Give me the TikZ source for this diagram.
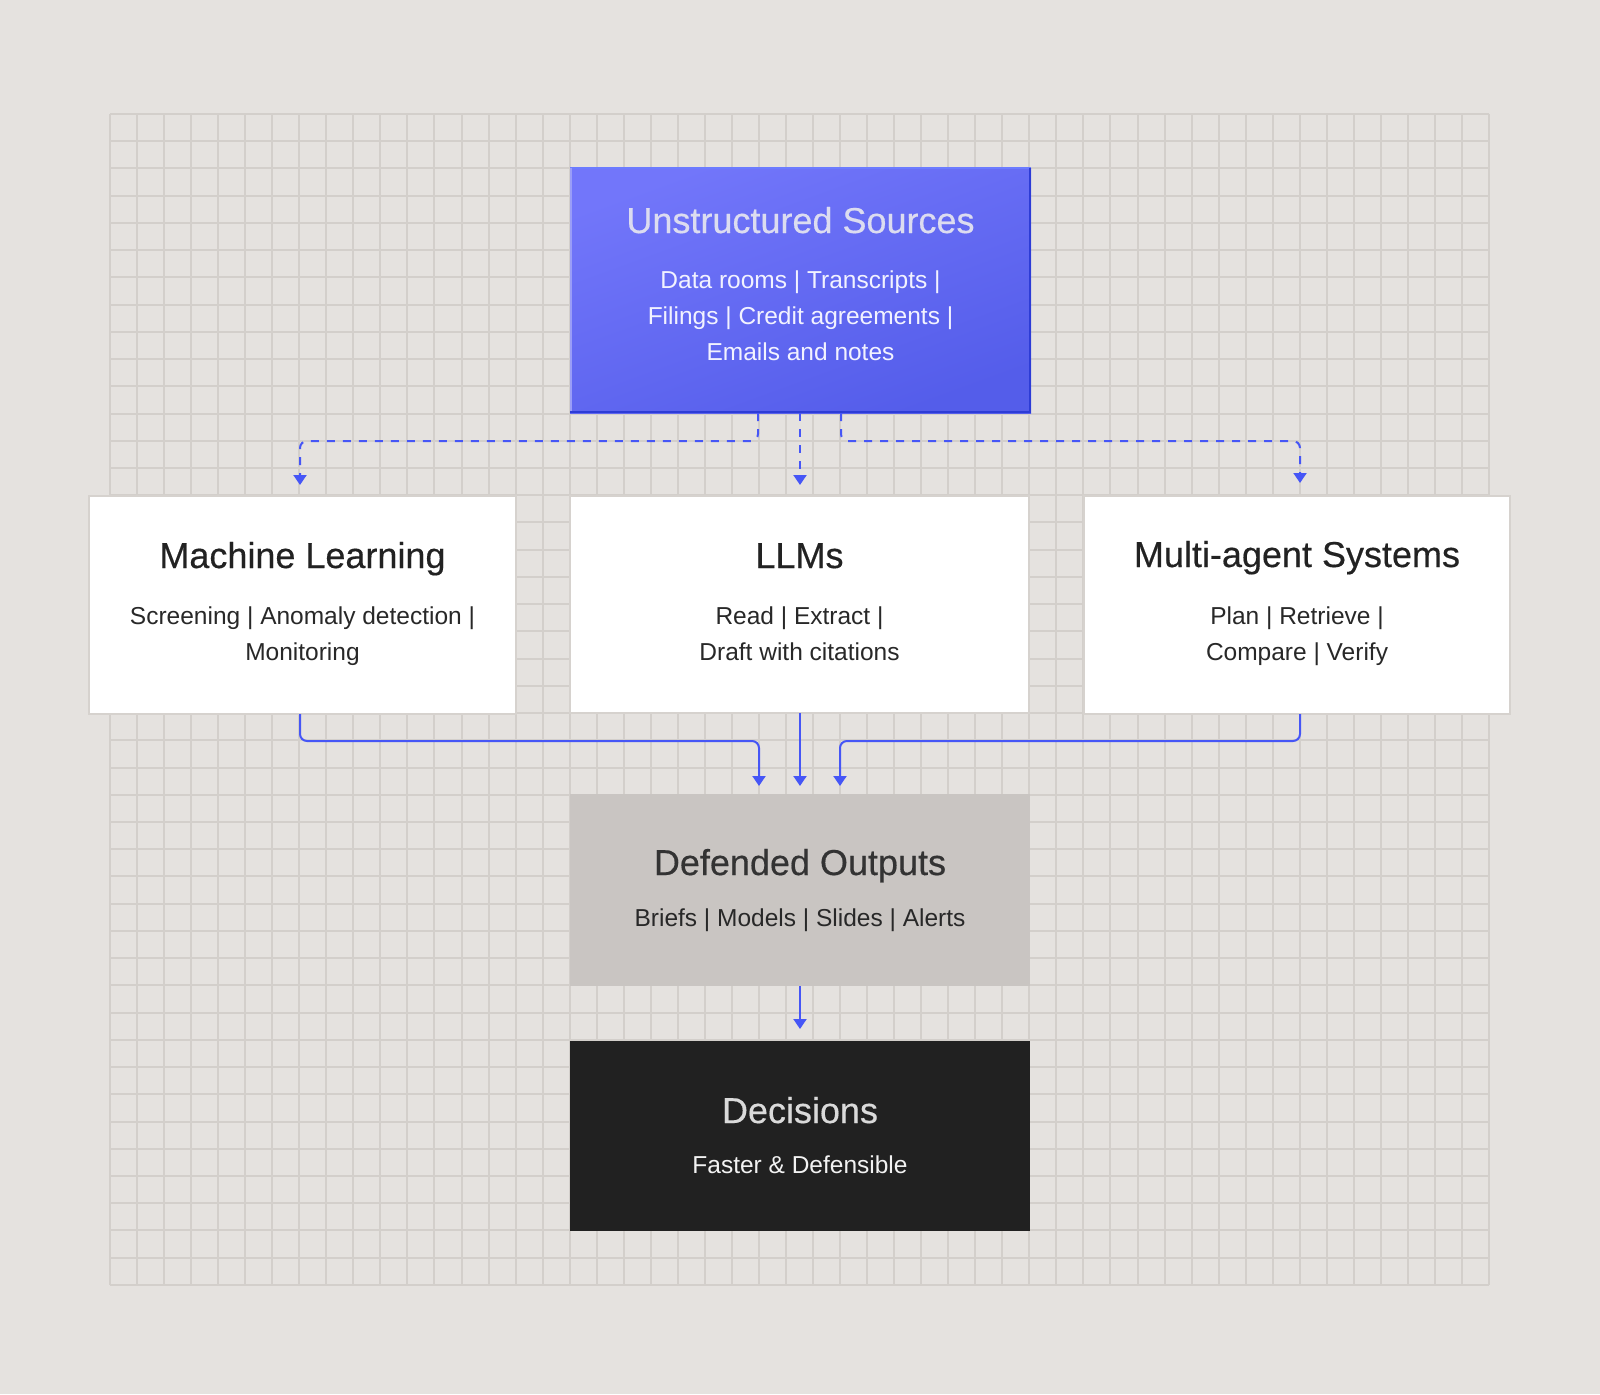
\documentclass[tikz,border=0pt]{standalone}
\usepackage{fontspec}
\setmainfont{Liberation Sans}
\usetikzlibrary{arrows.meta,calc}
\definecolor{bgc}{HTML}{E5E2DF}
\definecolor{gridc}{HTML}{D3CFCB}
\definecolor{cardborder}{HTML}{D6D2CE}
\definecolor{srctop}{HTML}{7276FA}
\definecolor{srcbot}{HTML}{545DEA}
\definecolor{srcdark}{HTML}{2D3CD6}
\definecolor{srclight}{HTML}{9A9DF8}
\definecolor{srcedge}{HTML}{6C7CFF}
\definecolor{srctitle}{HTML}{DCDCF0}
\definecolor{srcsub}{HTML}{F2F2FF}
\definecolor{connc}{HTML}{4656F6}
\definecolor{outfill}{HTML}{C9C5C2}
\definecolor{outtitle}{HTML}{333333}
\definecolor{darktext}{HTML}{222222}
\definecolor{subtext}{HTML}{282828}
\definecolor{decfill}{HTML}{212121}
\definecolor{dectitle}{HTML}{DADADA}
\definecolor{decsub}{HTML}{F2F2F2}
\begin{document}
\begin{tikzpicture}[x=1pt,y=-1pt,
  gridline/.style={draw=gridc,line width=2pt},
  boxbase/.style={rectangle,inner sep=0pt,outer sep=0pt,anchor=north west},
  cardbox/.style={boxbase,fill=white,draw=cardborder,line width=1.3pt},
  srcbox/.style={boxbase,top color=srctop,bottom color=srcbot,shading angle=20},
  outbox/.style={boxbase,fill=outfill},
  decbox/.style={boxbase,fill=decfill},
  ttl/.style={anchor=base,inner sep=0pt,font=\fontsize{36}{43}\selectfont\addfontfeature{FakeBold=0.4}},
  sub/.style={anchor=base,inner sep=0pt,font=\fontsize{24.5}{30}\selectfont},
  conn/.style={draw=connc,line width=2pt,rounded corners=7pt,-{Triangle[width=13pt,length=10pt]}},
  dashconn/.style={conn,dash pattern=on 8pt off 8pt}
]
\useasboundingbox (0,0) rectangle (1600,1394);
\fill[bgc] (0,0) rectangle (1600,1394);
% grid
\foreach \i in {0,...,51}{\pgfmathsetmacro\gx{round(110+\i*27.04)}\draw[gridline] (\gx,114) -- (\gx,1285);}
\foreach \j in {0,...,43}{\pgfmathsetmacro\gy{round(114+\j*27.23)}\draw[gridline] (110,\gy) -- (1489,\gy);}

% boxes
\node[srcbox,minimum width=461pt,minimum height=245pt] (src) at (570,168) {};
\draw[srcedge,line width=1.6pt] (src.north west) -- (src.north east);
\draw[srclight,line width=2pt] ([xshift=1pt]src.north west) -- ([xshift=1pt]src.south west);
\draw[srcdark,line width=2pt] ([xshift=-1pt]src.north east) -- ([xshift=-1pt,yshift=1pt]src.south east) -- ([yshift=1pt]src.south west);

\node[cardbox,minimum width=427pt,minimum height=218pt] (ml) at (89,496) {};
\node[cardbox,minimum width=459pt,minimum height=217pt] (llm) at (570,496) {};
\node[cardbox,minimum width=426pt,minimum height=218pt] (mas) at (1084,496) {};
\node[outbox,minimum width=460pt,minimum height=192pt] (out) at (570,794) {};
\node[decbox,minimum width=460pt,minimum height=190pt] (dec) at (570,1041) {};

% texts
\node[ttl,text=srctitle] (srcT) at (800.5,233) {Unstructured Sources};
\node[sub,text=srcsub] (srcS1) at (800.5,288) {Data rooms | Transcripts |};
\node[sub,text=srcsub] (srcS2) at (800.5,324) {Filings | Credit agreements |};
\node[sub,text=srcsub] (srcS3) at (800.5,360) {Emails and notes};

\node[ttl,text=darktext] (mlT) at (302.5,568) {Machine Learning};
\node[sub,text=subtext] (mlS1) at (302.5,624) {Screening | Anomaly detection |};
\node[sub,text=subtext] (mlS2) at (302.5,660) {Monitoring};

\node[ttl,text=darktext] (llmT) at (799.5,568) {LLMs};
\node[sub,text=subtext] (llmS1) at (799.5,624) {Read | Extract |};
\node[sub,text=subtext] (llmS2) at (799.5,660) {Draft with citations};

\node[ttl,text=darktext] (masT) at (1297,567) {Multi-agent Systems};
\node[sub,text=subtext] (masS1) at (1297,624) {Plan | Retrieve |};
\node[sub,text=subtext] (masS2) at (1297,660) {Compare | Verify};

\node[ttl,text=outtitle] (outT) at (800,875) {Defended Outputs};
\node[sub,text=subtext] (outS) at (800,926) {Briefs | Models | Slides | Alerts};

\node[ttl,text=dectitle] (decT) at (800,1123) {Decisions};
\node[sub,text=decsub] (decS) at (800,1173) {Faster \& Defensible};

% port coordinates
\coordinate (xL) at (758,0);
\coordinate (xM) at (800,0);
\coordinate (xR) at (841,0);
\coordinate (xML) at (300,0);
\coordinate (xMA) at (1300,0);
\coordinate (xD1) at (759,0);
\coordinate (xD3) at (840,0);

% dashed connectors
\draw[dashconn] (src.south -| xL) -- ++(0,28) -| ([yshift=11pt]ml.north -| xML);
\draw[dashconn] (src.south -| xM) -- ([yshift=11pt]llm.north -| xM);
\draw[dashconn] (src.south -| xR) -- ++(0,28) -| ([yshift=13pt]mas.north -| xMA);

% solid connectors
\draw[conn] (ml.south -| xML) -- ++(0,27) -| ([yshift=8pt]out.north -| xD1);
\draw[conn] (llm.south -| xM) -- ([yshift=8pt]out.north -| xM);
\draw[conn] (mas.south -| xMA) -- ++(0,27) -| ([yshift=8pt]out.north -| xD3);
\draw[conn] (out.south -| xM) -- ([yshift=12pt]dec.north -| xM);
\end{tikzpicture}
\end{document}
